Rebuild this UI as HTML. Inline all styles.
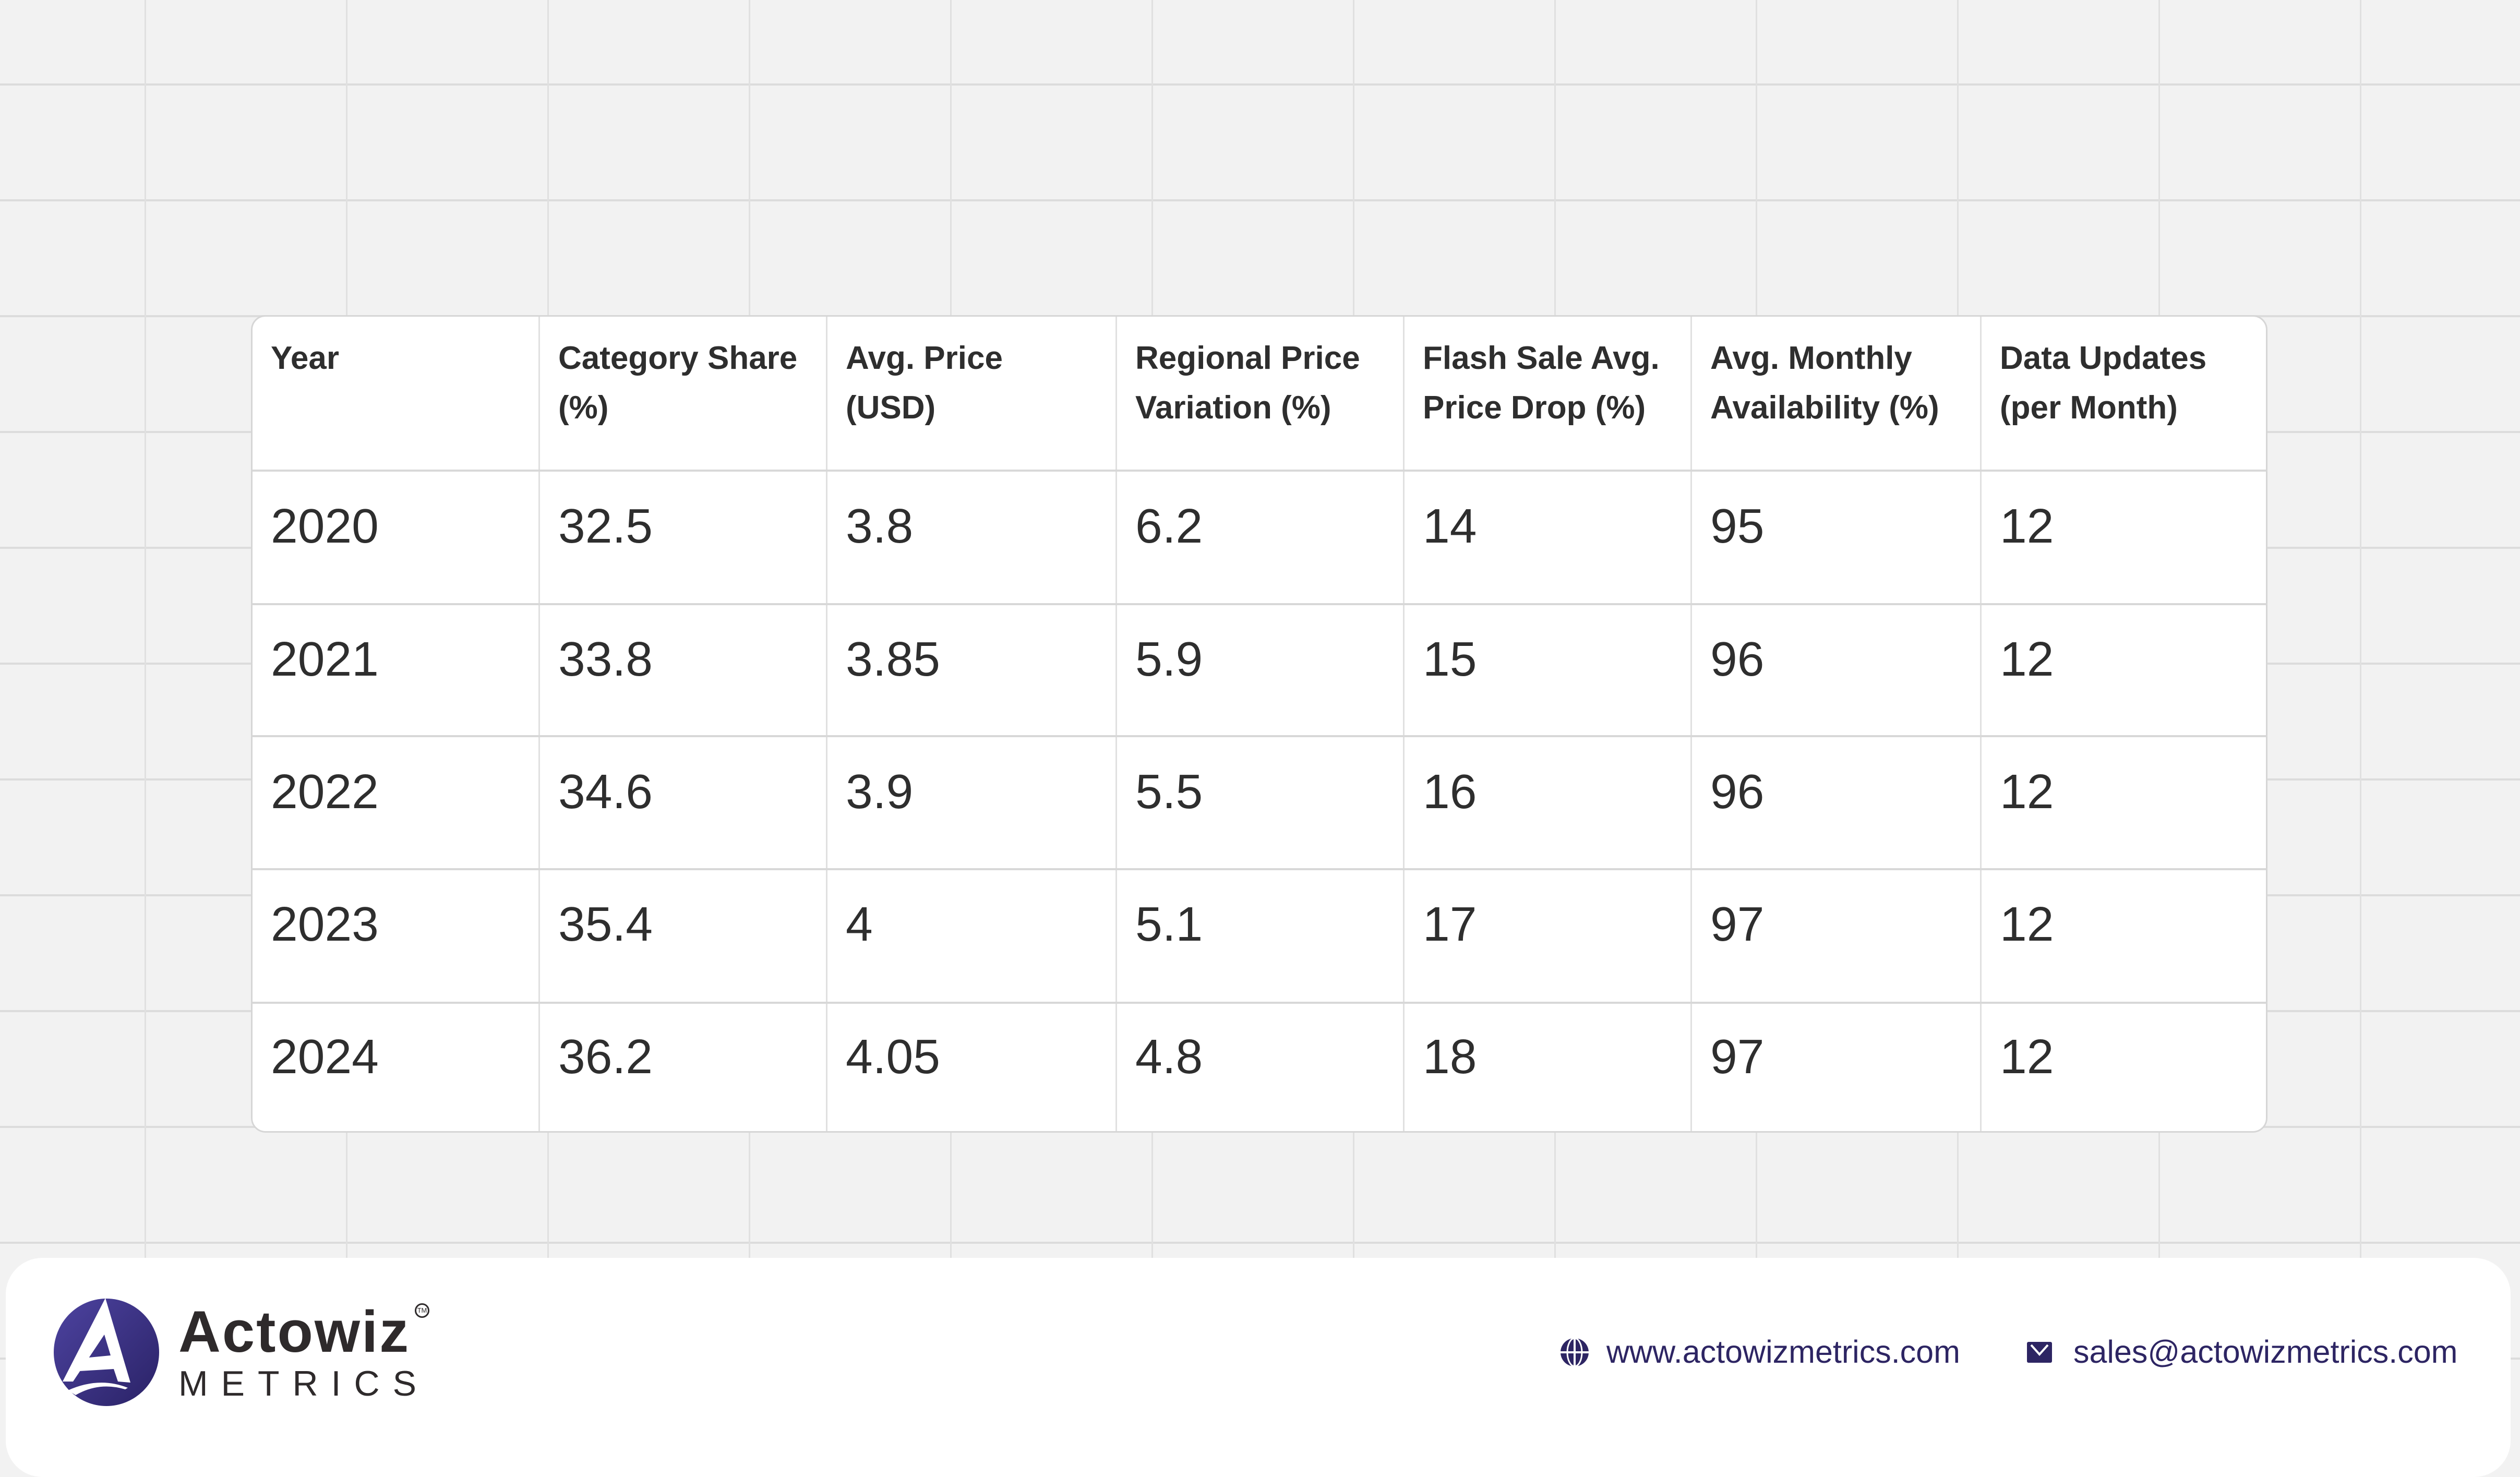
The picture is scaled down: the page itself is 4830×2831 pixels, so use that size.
<!DOCTYPE html>
<html><head><meta charset="utf-8"><style>
*{margin:0;padding:0;box-sizing:border-box}
html,body{width:4830px;height:2777px;overflow:hidden;background:#f2f2f2;font-family:"Liberation Sans",Arial,sans-serif}
.bg{position:absolute;left:0;top:0;width:4830px;height:2777px;
background-image:linear-gradient(to right,#e0e0e0 0,#e0e0e0 3px,transparent 3px),linear-gradient(to bottom,#dcdcdc 0,#dcdcdc 4px,transparent 4px);
background-size:386px 222px,386px 222px;background-position:277px 0,0 160px}
.tbl{position:absolute;left:481px;top:604px;width:3865px;height:1567px;background:#fff;border:3px solid #d6d6d6;border-radius:28px;overflow:hidden}
.v{position:absolute;top:0;bottom:0;width:3px;background:#e0e0e0}
.h{position:absolute;left:0;right:0;height:4px;background:#d8d8d8}
.hd{position:absolute;top:32px;font-weight:bold;font-size:62px;line-height:95px;color:#2e2e2e}
.c{position:absolute;font-size:93px;color:#2e2e2e;line-height:100px}
.foot{position:absolute;left:11px;top:2411px;width:4801px;height:420px;background:#fff;border-radius:70px}
.ft{position:absolute;font-size:61px;color:#2d2563;line-height:70px}
</style></head><body>
<div class="bg"></div>
<div class="tbl">
<div class="v" style="left:548px"></div><div class="v" style="left:1099px"></div><div class="v" style="left:1654px"></div><div class="v" style="left:2205px"></div><div class="v" style="left:2756px"></div><div class="v" style="left:3311px"></div>
<div class="h" style="top:293px"></div><div class="h" style="top:549px"></div><div class="h" style="top:802px"></div><div class="h" style="top:1057px"></div><div class="h" style="top:1313px"></div>
<div class="hd" style="left:35px">Year</div>
<div class="hd" style="left:586px">Category Share<br>(%)</div>
<div class="hd" style="left:1137px">Avg. Price<br>(USD)</div>
<div class="hd" style="left:1692px">Regional Price<br>Variation (%)</div>
<div class="hd" style="left:2243px">Flash Sale Avg.<br>Price Drop (%)</div>
<div class="hd" style="left:2794px">Avg. Monthly<br>Availability (%)</div>
<div class="hd" style="left:3349px">Data Updates<br>(per Month)</div>
</div>
<div class="foot"></div>
<svg style="position:absolute;left:100px;top:2488px" width="210" height="210" viewBox="0 0 210 210">
<defs><linearGradient id="g" x1="0" y1="0" x2="1" y2="1"><stop offset="0" stop-color="#4d43a0"/><stop offset="1" stop-color="#2a2266"/></linearGradient></defs>
<ellipse cx="104" cy="104" rx="101" ry="103" fill="url(#g)"/>
<polygon points="102,0 20,160 40,160 100,70 112,110 60,115 52,140 118,136 126,160 150,162" fill="#fff"/>
<path d="M30,177 Q90,150 145,172 L140,175 Q90,160 45,186 Z" fill="#fff"/>
</svg>
<div style="position:absolute;left:342px;top:2488px;font-size:112px;font-weight:bold;color:#2e2a2b;line-height:130px;letter-spacing:3px">Actowiz</div>
<div style="position:absolute;left:795px;top:2498px;width:28px;height:28px;border:3px solid #2e2a2b;border-radius:50%;font-size:13px;line-height:22px;text-align:center;color:#2e2a2b">TM</div>
<div style="position:absolute;left:342px;top:2612px;font-size:68px;color:#2e2a2b;line-height:80px;letter-spacing:25px">METRICS</div>
<svg style="position:absolute;left:2989px;top:2563px" width="58" height="58" viewBox="0 0 58 58"><circle cx="29" cy="29" r="27" fill="#2d2563"/><rect x="0" y="27" width="58" height="4" fill="#fff"/><rect x="27" y="0" width="4" height="58" fill="#fff"/><ellipse cx="29" cy="29" rx="14" ry="27" fill="none" stroke="#fff" stroke-width="3"/></svg>
<div class="ft" style="left:3079px;top:2556px">www.actowizmetrics.com</div>
<svg style="position:absolute;left:3885px;top:2572px" width="48" height="40" viewBox="0 0 48 40"><rect width="48" height="40" rx="3" fill="#2d2563"/><polyline points="8,6 24,24 40,6" fill="none" stroke="#fff" stroke-width="4"/></svg>
<div class="ft" style="left:3974px;top:2556px">sales@actowizmetrics.com</div>
<div style="position:absolute;left:0;top:0">
<div class="c" style="left:519px;top:958px">2020</div><div class="c" style="left:1070px;top:958px">32.5</div><div class="c" style="left:1621px;top:958px">3.8</div><div class="c" style="left:2176px;top:958px">6.2</div><div class="c" style="left:2727px;top:958px">14</div><div class="c" style="left:3278px;top:958px">95</div><div class="c" style="left:3833px;top:958px">12</div>
<div class="c" style="left:519px;top:1213px">2021</div><div class="c" style="left:1070px;top:1213px">33.8</div><div class="c" style="left:1621px;top:1213px">3.85</div><div class="c" style="left:2176px;top:1213px">5.9</div><div class="c" style="left:2727px;top:1213px">15</div><div class="c" style="left:3278px;top:1213px">96</div><div class="c" style="left:3833px;top:1213px">12</div>
<div class="c" style="left:519px;top:1467px">2022</div><div class="c" style="left:1070px;top:1467px">34.6</div><div class="c" style="left:1621px;top:1467px">3.9</div><div class="c" style="left:2176px;top:1467px">5.5</div><div class="c" style="left:2727px;top:1467px">16</div><div class="c" style="left:3278px;top:1467px">96</div><div class="c" style="left:3833px;top:1467px">12</div>
<div class="c" style="left:519px;top:1721px">2023</div><div class="c" style="left:1070px;top:1721px">35.4</div><div class="c" style="left:1621px;top:1721px">4</div><div class="c" style="left:2176px;top:1721px">5.1</div><div class="c" style="left:2727px;top:1721px">17</div><div class="c" style="left:3278px;top:1721px">97</div><div class="c" style="left:3833px;top:1721px">12</div>
<div class="c" style="left:519px;top:1975px">2024</div><div class="c" style="left:1070px;top:1975px">36.2</div><div class="c" style="left:1621px;top:1975px">4.05</div><div class="c" style="left:2176px;top:1975px">4.8</div><div class="c" style="left:2727px;top:1975px">18</div><div class="c" style="left:3278px;top:1975px">97</div><div class="c" style="left:3833px;top:1975px">12</div>
</div>
</body></html>
